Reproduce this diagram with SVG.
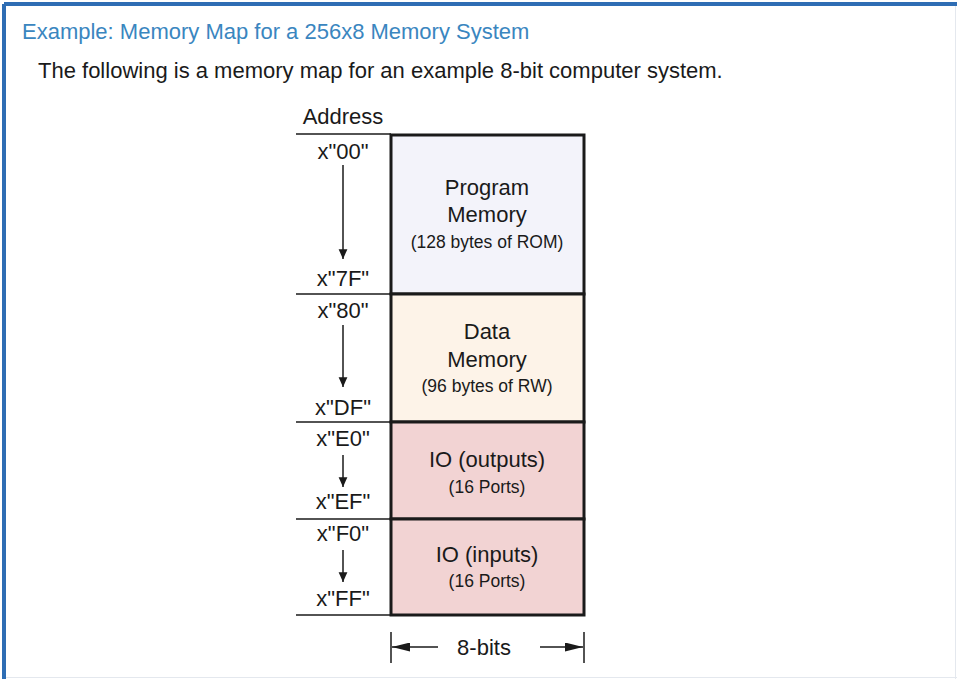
<svg xmlns="http://www.w3.org/2000/svg" width="957" height="679" viewBox="0 0 957 679">
<defs>
<style>
text{font-family:"Liberation Sans",Arial,sans-serif;fill:#1a1a1a}
.title{font-size:22px;fill:#3a86bf}
.sub{font-size:22px}
.addr{font-size:22px;text-anchor:middle}
.lbl{font-size:22px;text-anchor:middle}
.small{font-size:17.5px;text-anchor:middle}
.thin{stroke:#1a1a1a;stroke-width:1.5;fill:none}
.box{stroke:#1a1a1a;stroke-width:3}
</style>
<marker id="ah" viewBox="0 0 10 10" refX="10" refY="5" markerWidth="6.5" markerHeight="7" markerUnits="strokeWidth" orient="auto">
<path d="M0,0.5 L10,5 L0,9.5 Z" fill="#1a1a1a"/>
</marker>
<marker id="ah2" viewBox="0 0 20 10" refX="20" refY="5" markerWidth="12" markerHeight="6" markerUnits="strokeWidth" orient="auto">
<path d="M0,0 L20,5 L0,10 Z" fill="#1a1a1a"/>
</marker>
</defs>
<rect x="0" y="0" width="957" height="679" fill="#ffffff"/>
<line x1="4" y1="4" x2="957" y2="4" stroke="#2e6db4" stroke-width="4"/>
<line x1="4" y1="4" x2="4" y2="679" stroke="#2e6db4" stroke-width="4"/>
<line x1="955.5" y1="6" x2="955.5" y2="679" stroke="#e4e8ee" stroke-width="1"/>
<line x1="6" y1="677.5" x2="957" y2="677.5" stroke="#e4e8ee" stroke-width="1"/>
<text class="title" x="22" y="39">Example: Memory Map for a 256x8 Memory System</text>
<text class="sub" x="38" y="78">The following is a memory map for an example 8-bit computer system.</text>
<text class="addr" x="343" y="124">Address</text>
<g id="program">
<rect class="box" x="391" y="135" width="193" height="159" fill="#f3f3fa"/>
<text class="lbl" x="487" y="195">Program</text>
<text class="lbl" x="487" y="222">Memory</text>
<text class="small" x="487" y="248">(128 bytes of ROM)</text>
</g>
<g id="data">
<rect class="box" x="391" y="294" width="193" height="128" fill="#fdf3e8"/>
<text class="lbl" x="487" y="339">Data</text>
<text class="lbl" x="487" y="367">Memory</text>
<text class="small" x="487" y="392">(96 bytes of RW)</text>
</g>
<g id="io-out">
<rect class="box" x="391" y="422" width="193" height="97" fill="#f2d3d3"/>
<text class="lbl" x="487" y="467">IO (outputs)</text>
<text class="small" x="487" y="493">(16 Ports)</text>
</g>
<g id="io-in">
<rect class="box" x="391" y="519" width="193" height="96" fill="#f2d3d3"/>
<text class="lbl" x="487" y="562">IO (inputs)</text>
<text class="small" x="487" y="587">(16 Ports)</text>
</g>
<g id="addresses">
<text class="addr" x="343" y="159">x"00"</text>
<text class="addr" x="343" y="286">x"7F"</text>
<text class="addr" x="343" y="318">x"80"</text>
<text class="addr" x="343" y="415">x"DF"</text>
<text class="addr" x="343" y="446">x"E0"</text>
<text class="addr" x="343" y="509">x"EF"</text>
<text class="addr" x="343" y="541">x"F0"</text>
<text class="addr" x="343" y="606">x"FF"</text>
</g>
<g id="connectors">
<line class="thin" x1="296" y1="134" x2="391" y2="134"/>
<line class="thin" x1="296" y1="294" x2="391" y2="294"/>
<line class="thin" x1="296" y1="422" x2="391" y2="422"/>
<line class="thin" x1="296" y1="519" x2="391" y2="519"/>
<line class="thin" x1="296" y1="615" x2="391" y2="615"/>
<line class="thin" x1="343" y1="165" x2="343" y2="259" marker-end="url(#ah)"/>
<line class="thin" x1="343" y1="325" x2="343" y2="387" marker-end="url(#ah)"/>
<line class="thin" x1="343" y1="455" x2="343" y2="487" marker-end="url(#ah)"/>
<line class="thin" x1="343" y1="550" x2="343" y2="582" marker-end="url(#ah)"/>
<line class="thin" x1="391" y1="632" x2="391" y2="663"/>
<line class="thin" x1="584" y1="632" x2="584" y2="663"/>
<line class="thin" x1="438" y1="647" x2="392" y2="647" marker-end="url(#ah2)"/>
<line class="thin" x1="540" y1="647" x2="583" y2="647" marker-end="url(#ah2)"/>
</g>
<text class="addr" x="484" y="655">8-bits</text>
</svg>
